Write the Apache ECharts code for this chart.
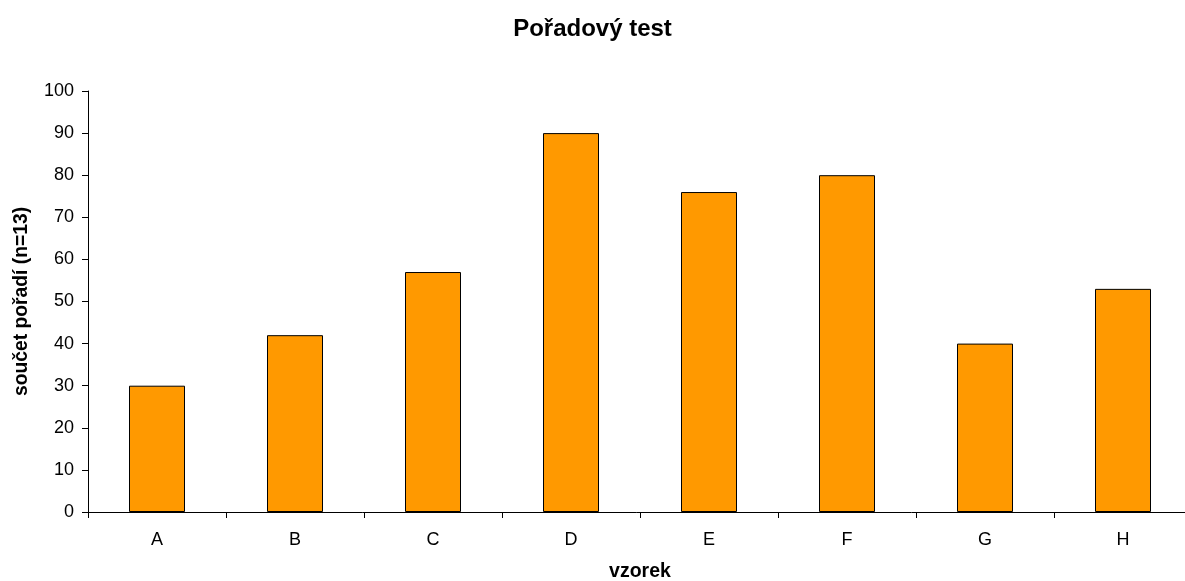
<!DOCTYPE html>
<html><head><meta charset="utf-8">
<script src="https://cdn.jsdelivr.net/npm/echarts@6/dist/echarts.min.js"></script>
<style>html,body{margin:0;padding:0;background:#fff}#c{width:1185px;height:581px}</style>
</head><body><div id="c"></div>
<script>
const categories = ['A','B','C','D','E','F','G','H'];
const values = [30, 42, 57, 90, 76, 80, 40, 53];
const yTicks = {min: 0, max: 100, interval: 10};

const chart = echarts.init(document.getElementById('c'));
const font = '"Liberation Sans", Arial, sans-serif';
chart.setOption({
  animation: false,
  backgroundColor: '#fff',
  title: {text: 'Pořadový test', left: 'center', top: 12,
    textStyle: {fontFamily: font, fontSize: 24, fontWeight: 'bold', color: '#000'}},
  grid: {left: 88, top: 91, width: 1104, height: 421, containLabel: false, outerBoundsMode: 'none'},
  xAxis: {type: 'category', data: categories, boundaryGap: true,
    name: 'vzorek', nameLocation: 'middle', nameGap: 50,
    nameTextStyle: {fontFamily: font, fontSize: 19.5, fontWeight: 'bold', color: '#000'},
    axisLine: {lineStyle: {color: '#000', width: 1}},
    axisTick: {show: true, length: 6, lineStyle: {color: '#000'}},
    axisLabel: {fontFamily: font, fontSize: 18, color: '#000', margin: 19}},
  yAxis: {type: 'value', min: yTicks.min, max: yTicks.max, interval: yTicks.interval,
    name: 'součet pořadí (n=13)', nameLocation: 'middle', nameGap: 57, nameRotate: 90,
    nameTextStyle: {fontFamily: font, fontSize: 19.3, fontWeight: 'bold', color: '#000'},
    axisLine: {show: true, lineStyle: {color: '#000', width: 1}},
    axisTick: {show: true, length: 6, lineStyle: {color: '#000'}},
    splitLine: {show: false},
    axisLabel: {fontFamily: font, fontSize: 18, color: '#000', margin: 14}},
  series: [{type: 'bar', data: values, barWidth: 56,
    itemStyle: {color: '#FF9900', borderColor: '#000', borderWidth: 1}}]
});
</script></body></html>
